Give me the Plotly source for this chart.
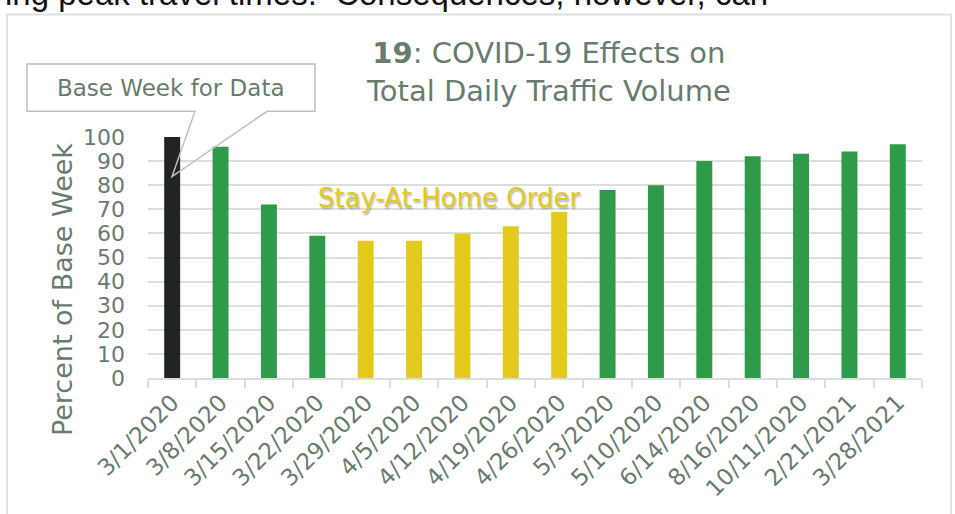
import plotly.graph_objects as go

weeks = ["3/1/2020", "3/8/2020", "3/15/2020", "3/22/2020", "3/29/2020", "4/5/2020",
         "4/12/2020", "4/19/2020", "4/26/2020", "5/3/2020", "5/10/2020", "6/14/2020",
         "8/16/2020", "10/11/2020", "2/21/2021", "3/28/2021"]
percent_of_base = [100, 96, 72, 59, 57, 57, 60, 63, 69, 78, 80, 90, 92, 93, 94, 97]
period = ["base", "open", "open", "open", "stay", "stay", "stay", "stay", "stay",
          "open", "open", "open", "open", "open", "open", "open"]
y_ticks = [0, 10, 20, 30, 40, 50, 60, 70, 80, 90, 100]

BLACK = "#1f2420"
GREEN = "#2f9a4a"
YELLOW = "#e2c91c"
TEXT = "#687c6d"
GRID = "#d9dfdc"
FONT = "DejaVu Sans"

color_map = {"base": BLACK, "open": GREEN, "stay": YELLOW}
colors = [color_map[p] for p in period]

W, H = 955, 514
L, R, T, B = 148, 922, 137, 381


def px(x):
    return (x - L) / (R - L)


def py(y):
    return (B - y) / (B - T)


fig = go.Figure(go.Bar(
    x=weeks, y=percent_of_base,
    marker=dict(color=colors, line=dict(width=0)),
    width=0.33,
    hoverinfo="x+y",
))

fig.update_layout(
    width=W, height=H,
    margin=dict(l=L, r=W - R, t=T, b=H - B, pad=0),
    paper_bgcolor="white", plot_bgcolor="white",
    showlegend=False,
    font=dict(family=FONT, color=TEXT),
)

fig.update_xaxes(
    type="category",
    tickson="boundaries",
    ticks="outside", ticklen=8, tickwidth=2, tickcolor=GRID,
    showline=True, linecolor=GRID, linewidth=2,
    showgrid=False,
    tickangle=-45,
    tickfont=dict(family=FONT, size=23, color=TEXT),
)
fig.update_yaxes(
    range=[0, 100],
    tickvals=y_ticks,
    showgrid=True, gridcolor=GRID, gridwidth=2,
    zeroline=False, showline=False,
    ticks="", ticklabelstandoff=22,
    tickfont=dict(family=FONT, size=22, color=TEXT),
)

annotations = [
    # cropped surrounding document text
    dict(text="ring peak travel times.  Consequences, however, can",
         x=px(-8), y=py(12), xref="paper", yref="paper",
         xanchor="left", yanchor="bottom", showarrow=False,
         font=dict(family="Liberation Sans", size=33, color="#111111")),
    # title
    dict(text="<b>19</b>: COVID-19 Effects on<br>Total Daily Traffic Volume",
         x=px(548), y=py(71), xref="paper", yref="paper",
         xanchor="center", yanchor="middle", showarrow=False,
         font=dict(family=FONT, size=29, color=TEXT)),
    # y axis title
    dict(text="Percent of Base Week",
         x=px(62), y=py(292), xref="paper", yref="paper",
         xanchor="center", yanchor="middle", showarrow=False, textangle=-90,
         font=dict(family=FONT, size=27, color=TEXT)),
    # callout text
    dict(text="Base Week for Data",
         x=px(171), y=py(87), xref="paper", yref="paper",
         xanchor="center", yanchor="middle", showarrow=False,
         font=dict(family=FONT, size=23, color=TEXT)),
    # stay at home label
    dict(text="Stay-At-Home Order",
         x=px(449), y=py(199), xref="paper", yref="paper",
         xanchor="center", yanchor="middle", showarrow=False,
         font=dict(family=FONT, size=26, color=YELLOW,
                   shadow="1px 2px 2px rgba(0,0,0,0.3)")),
]

callout_pts = [(27, 63), (315, 63), (315, 111), (267, 111), (172, 177), (195, 111), (27, 111)]
path = "M " + " L ".join(f"{px(x):.5f},{py(y):.5f}" for x, y in callout_pts) + " Z"

shapes = [
    dict(type="rect", xref="paper", yref="paper",
         x0=px(7), x1=px(951), y0=py(13), y1=py(530),
         line=dict(color="#dde2df", width=2), fillcolor="rgba(0,0,0,0)", layer="below"),
    dict(type="path", xref="paper", yref="paper", path=path,
         line=dict(color="#bfbfbf", width=1.5), fillcolor="rgba(0,0,0,0)", layer="above"),
]

fig.update_layout(annotations=annotations, shapes=shapes)

fig.write_html("out.html",
               config={"displayModeBar": False},
               post_script="document.body.style.margin='0';document.body.style.overflow='hidden';")
